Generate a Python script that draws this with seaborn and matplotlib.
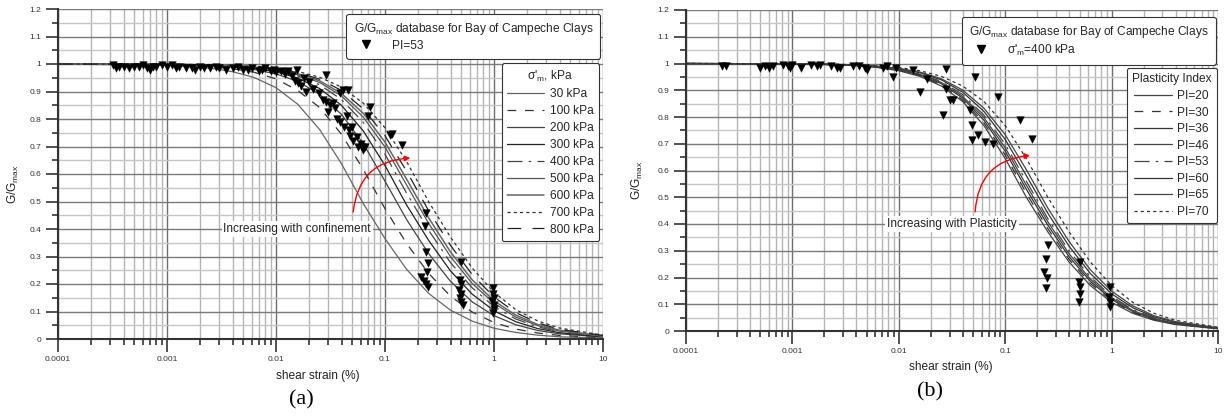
import matplotlib
matplotlib.use("Agg")
import matplotlib.pyplot as plt
import seaborn as sns
from matplotlib.lines import Line2D
from matplotlib.ticker import LogLocator, MultipleLocator, NullFormatter

# shear strain (%) where the curves were read
strain_grid = [0.0001, 0.001, 0.0025, 0.004, 0.0063, 0.01, 0.0158, 0.0251, 0.0398, 0.0631,
               0.1, 0.158, 0.251, 0.398, 0.631, 1.0, 1.58, 2.51, 3.98, 10.0]

# (a) G/Gmax curves for each confinement
conf_labels = ["30 kPa", "100 kPa", "200 kPa", "300 kPa", "400 kPa",
               "500 kPa", "600 kPa", "700 kPa", "800 kPa"]
g_30 = [1.0, 0.995, 0.985, 0.972, 0.951, 0.914, 0.854, 0.762, 0.638, 0.493,
        0.365, 0.253, 0.166, 0.105, 0.065, 0.039, 0.024, 0.014, 0.008, 0.003]
g_100 = [1.0, 0.997, 0.990, 0.983, 0.970, 0.946, 0.904, 0.842, 0.745, 0.617,
         0.474, 0.347, 0.239, 0.156, 0.098, 0.060, 0.036, 0.022, 0.013, 0.005]
g_200 = [1.0, 0.998, 0.994, 0.989, 0.980, 0.964, 0.937, 0.890, 0.817, 0.711,
         0.574, 0.434, 0.311, 0.210, 0.135, 0.085, 0.052, 0.031, 0.019, 0.007]
g_300 = [1.0, 0.998, 0.995, 0.991, 0.984, 0.972, 0.949, 0.911, 0.850, 0.757,
         0.631, 0.487, 0.359, 0.248, 0.163, 0.103, 0.063, 0.038, 0.023, 0.008]
g_400 = [1.0, 0.999, 0.996, 0.993, 0.987, 0.976, 0.957, 0.925, 0.871, 0.788,
         0.672, 0.530, 0.396, 0.278, 0.186, 0.118, 0.073, 0.044, 0.027, 0.009]
g_500 = [1.0, 0.999, 0.996, 0.993, 0.988, 0.979, 0.961, 0.933, 0.884, 0.807,
         0.698, 0.560, 0.421, 0.300, 0.202, 0.130, 0.080, 0.049, 0.029, 0.010]
g_600 = [1.0, 0.999, 0.997, 0.994, 0.989, 0.981, 0.965, 0.939, 0.893, 0.821,
         0.716, 0.581, 0.441, 0.317, 0.215, 0.139, 0.087, 0.053, 0.032, 0.011]
g_700 = [1.0, 0.999, 0.998, 0.995, 0.992, 0.985, 0.973, 0.952, 0.916, 0.858,
         0.768, 0.645, 0.500, 0.371, 0.258, 0.170, 0.107, 0.066, 0.040, 0.014]
g_800 = [1.0, 0.999, 0.997, 0.994, 0.990, 0.983, 0.969, 0.945, 0.904, 0.837,
         0.739, 0.610, 0.467, 0.341, 0.234, 0.153, 0.096, 0.059, 0.035, 0.013]
conf_curves = [g_30, g_100, g_200, g_300, g_400, g_500, g_600, g_700, g_800]

# (b) G/Gmax curves for each plasticity index
pi_labels = ["PI=20", "PI=30", "PI=36", "PI=46", "PI=53", "PI=60", "PI=65", "PI=70"]
g_pi20 = [1.0, 0.998, 0.995, 0.992, 0.985, 0.973, 0.952, 0.916, 0.858, 0.768,
          0.645, 0.500, 0.371, 0.258, 0.170, 0.107, 0.066, 0.040, 0.024, 0.008]
g_pi30 = [1.0, 0.998, 0.995, 0.992, 0.986, 0.975, 0.955, 0.920, 0.864, 0.778,
          0.658, 0.515, 0.383, 0.268, 0.178, 0.113, 0.070, 0.042, 0.026, 0.009]
g_pi36 = [1.0, 0.999, 0.996, 0.993, 0.987, 0.976, 0.957, 0.925, 0.871, 0.788,
          0.672, 0.530, 0.396, 0.278, 0.186, 0.118, 0.073, 0.044, 0.027, 0.009]
g_pi46 = [1.0, 0.999, 0.996, 0.993, 0.987, 0.977, 0.959, 0.929, 0.877, 0.798,
          0.685, 0.545, 0.409, 0.289, 0.194, 0.124, 0.077, 0.047, 0.028, 0.010]
g_pi53 = [1.0, 0.999, 0.996, 0.993, 0.988, 0.979, 0.961, 0.933, 0.884, 0.807,
          0.698, 0.560, 0.421, 0.300, 0.202, 0.130, 0.080, 0.049, 0.029, 0.010]
g_pi60 = [1.0, 0.999, 0.997, 0.994, 0.989, 0.981, 0.965, 0.939, 0.893, 0.821,
          0.716, 0.581, 0.441, 0.317, 0.215, 0.139, 0.087, 0.053, 0.032, 0.011]
g_pi65 = [1.0, 0.999, 0.997, 0.994, 0.990, 0.982, 0.968, 0.943, 0.901, 0.833,
          0.734, 0.603, 0.460, 0.335, 0.229, 0.149, 0.094, 0.057, 0.035, 0.012]
g_pi70 = [1.0, 0.999, 0.998, 0.995, 0.992, 0.985, 0.973, 0.952, 0.916, 0.858,
          0.768, 0.645, 0.500, 0.371, 0.258, 0.170, 0.107, 0.066, 0.040, 0.014]
pi_curves = [g_pi20, g_pi30, g_pi36, g_pi46, g_pi53, g_pi60, g_pi65, g_pi70]

# database points, PI=53
pts_a_strain = [0.00032, 0.00034, 0.00036, 0.0004, 0.00045, 0.0005, 0.00055, 0.0006, 0.00065, 0.0007,
                0.00075, 0.0008, 0.0009, 0.001, 0.0011, 0.0012, 0.0013, 0.0015, 0.0017, 0.0018,
                0.002, 0.0022, 0.0025, 0.0028, 0.003, 0.0035, 0.004, 0.0045, 0.005, 0.0055,
                0.006, 0.007, 0.0075, 0.008, 0.009, 0.0095, 0.01, 0.011, 0.012,
                0.013, 0.014, 0.015, 0.0155, 0.016, 0.017, 0.018, 0.019, 0.02, 0.022,
                0.025, 0.027, 0.029, 0.029, 0.03, 0.031, 0.033, 0.035, 0.036, 0.039,
                0.039, 0.041, 0.042, 0.045, 0.046, 0.047, 0.048, 0.05, 0.051, 0.055,
                0.057, 0.06, 0.061, 0.063, 0.065, 0.07, 0.073, 0.11, 0.115, 0.143,
                0.24, 0.235, 0.24, 0.25, 0.245, 0.215, 0.23, 0.24, 0.25,
                0.5, 0.49, 0.5, 0.48, 0.5, 0.49, 0.5, 0.52,
                0.98, 0.97, 1.0, 0.96, 0.99, 1.0, 0.98]
pts_a_g = [0.995, 0.985, 0.99, 0.99, 0.985, 0.99, 0.99, 0.995, 0.985, 0.98,
           0.99, 0.99, 0.995, 0.99, 0.995, 0.985, 0.99, 0.985, 0.985, 0.98,
           0.99, 0.985, 0.985, 0.99, 0.985, 0.98, 0.985, 0.99, 0.98, 0.98,
           0.985, 0.975, 0.98, 0.985, 0.975, 0.98, 0.97, 0.975, 0.965,
           0.975, 0.955, 0.94, 0.978, 0.93, 0.92, 0.95, 0.90, 0.935, 0.91,
           0.895, 0.87, 0.96, 0.863, 0.827, 0.85, 0.86, 0.84, 0.80, 0.894,
           0.79, 0.905, 0.77, 0.81, 0.905, 0.76, 0.74, 0.77, 0.72, 0.735,
           0.70, 0.71, 0.70, 0.687, 0.70, 0.81, 0.845, 0.742, 0.745, 0.705,
           0.458, 0.41, 0.318, 0.275, 0.245, 0.227, 0.21, 0.2, 0.19,
           0.281, 0.215, 0.2, 0.18, 0.165, 0.15, 0.135, 0.124,
           0.184, 0.165, 0.15, 0.14, 0.125, 0.11, 0.095]

# database points, sigma'm = 400 kPa
pts_b_strain = [0.00022, 0.00024, 0.0005, 0.00055, 0.0006, 0.00066, 0.00082, 0.0009, 0.00095, 0.001,
                0.0012, 0.0015, 0.0017, 0.0018, 0.0023, 0.0026, 0.0028, 0.0037, 0.0042, 0.0048,
                0.005, 0.0071, 0.0078, 0.0089, 0.0095,
                0.0136, 0.0158, 0.0183, 0.028, 0.028, 0.026, 0.03, 0.032, 0.052, 0.047,
                0.0485, 0.055, 0.0485, 0.065, 0.077, 0.085, 0.137, 0.178,
                0.25, 0.24, 0.23, 0.245, 0.24,
                0.505, 0.49, 0.5, 0.5, 0.49,
                0.966, 0.95, 0.97, 0.96]
pts_b_g = [0.99, 0.99, 0.985, 0.99, 0.985, 0.99, 0.995, 0.99, 0.985, 0.995,
           0.985, 0.995, 0.99, 0.995, 0.99, 0.985, 0.985, 0.99, 0.99, 0.985,
           0.975, 0.985, 0.99, 0.95, 0.985,
           0.974, 0.893, 0.943, 0.98, 0.905, 0.806, 0.862, 0.862, 0.949, 0.825,
           0.769, 0.731, 0.713, 0.706, 0.70, 0.874, 0.787, 0.719,
           0.321, 0.271, 0.221, 0.197, 0.159,
           0.259, 0.184, 0.165, 0.14, 0.109,
           0.165, 0.128, 0.091, 0.11]

x_ticks = [0.0001, 0.001, 0.01, 0.1, 1, 10]
x_ticklabels = ["0.0001", "0.001", "0.01", "0.1", "1", "10"]
y_ticks = [0, 0.1, 0.2, 0.3, 0.4, 0.5, 0.6, 0.7, 0.8, 0.9, 1.0, 1.1, 1.2]
y_ticklabels = ["0", "0.1", "0.2", "0.3", "0.4", "0.5", "0.6", "0.7", "0.8", "0.9", "1", "1.1", "1.2"]

sns.set_theme(style="white")
plt.rcParams["font.family"] = ["Liberation Sans", "DejaVu Sans"]
plt.rcParams["mathtext.fontset"] = "custom"
plt.rcParams["mathtext.rm"] = "Liberation Sans"
plt.rcParams["mathtext.it"] = "Liberation Sans:italic"

LEG_FS = 8.6
TXT_FS = 8.6

conf_styles = [
  ("-", "#666666", 0.9),
  ((0, (7, 7)), "#333333", 0.9),
  ("-", "#444444", 0.9),
  ("-", "#222222", 0.9),
  ((0, (12, 5, 2, 5)), "#444444", 0.9),
  ("-", "#555555", 0.9),
  ("-", "#666666", 1.1),
  ((0, (2.5, 2.5)), "#333333", 0.9),
  ((0, (11, 9)), "#222222", 0.9),
]
pi_styles = [
  ("-", "#444444", 0.9),
  ((0, (7, 7)), "#333333", 0.9),
  ("-", "#333333", 0.9),
  ("-", "#444444", 0.9),
  ((0, (12, 5, 2, 5)), "#444444", 0.9),
  ("-", "#333333", 0.9),
  ("-", "#444444", 0.9),
  ((0, (2.5, 2.5)), "#333333", 0.9),
]

fig = plt.figure(figsize=(12.24, 4.18), dpi=100)
ax_a = fig.add_axes([58 / 1224, 1 - 339 / 418, 545 / 1224, 330 / 418])
ax_b = fig.add_axes([686 / 1224, 1 - 331 / 418, 532 / 1224, 321 / 418])


def style_axes(ax):
  ax.set_xscale("log")
  ax.set_xlim(1e-4, 10)
  ax.set_ylim(0, 1.2)
  ax.set_xticks(x_ticks, labels=x_ticklabels)
  ax.xaxis.set_minor_locator(LogLocator(base=10, subs=range(2, 10), numticks=20))
  ax.xaxis.set_minor_formatter(NullFormatter())
  ax.set_yticks(y_ticks, labels=y_ticklabels)
  ax.yaxis.set_minor_locator(MultipleLocator(0.05))
  ax.set_axisbelow(True)
  ax.grid(which="major", axis="x", color="#6e6e6e", linewidth=1.0)
  ax.grid(which="minor", axis="x", color="#b4b4b4", linewidth=1.0)
  ax.grid(which="major", axis="y", color="#7a7a7a", linewidth=1.0)
  ax.grid(which="minor", axis="y", color="#c6c6c6", linewidth=1.0)
  ax.tick_params(which="major", direction="out", length=9, width=1.2, color="#333333",
                 labelsize=6, labelcolor="#333333", pad=3, bottom=True, left=True)
  ax.tick_params(which="minor", direction="out", length=4.5, width=1.2, color="#333333",
                 bottom=True, left=True)
  for side in ["top", "right"]:
    ax.spines[side].set_visible(False)
  for side in ["left", "bottom"]:
    ax.spines[side].set_color("#333333")
    ax.spines[side].set_linewidth(1.5)


def legend_handles(styles):
  return [Line2D([], [], linestyle=ls, color=c, linewidth=lw) for ls, c, lw in styles]


def frame_legends(ax, marker_label, anchor1, lines, labels, title, anchor2, spacing):
  leg1 = ax.legend(
    handles=[Line2D([], [], marker="v", color="black", linestyle="", markersize=6)],
    labels=[marker_label],
    title="G/G$_{\\mathrm{max}}$ database for Bay of Campeche Clays",
    loc="upper right", bbox_to_anchor=anchor1, borderaxespad=0,
    fontsize=LEG_FS, title_fontsize=LEG_FS, alignment="left",
    frameon=True, fancybox=True, framealpha=1, edgecolor="#333333",
    handlelength=2.0, handletextpad=1.2, borderpad=0.6, labelspacing=0.2,
  )
  leg1.get_frame().set_linewidth(0.8)
  ax.add_artist(leg1)
  leg2 = ax.legend(
    handles=lines, labels=labels, title=title,
    loc="upper right", bbox_to_anchor=anchor2, borderaxespad=0,
    fontsize=LEG_FS, title_fontsize=LEG_FS,
    frameon=True, fancybox=True, framealpha=1, edgecolor="#333333",
    handlelength=3.1, handletextpad=0.5, labelspacing=spacing, borderpad=0.45,
  )
  leg2.get_frame().set_linewidth(0.8)


# ---- panel (a)
style_axes(ax_a)
for vals, (ls, c, lw) in zip(conf_curves, conf_styles):
  sns.lineplot(x=strain_grid, y=vals, ax=ax_a, color=c, linestyle=ls, linewidth=lw,
               sort=False, estimator=None, legend=False)
sns.scatterplot(x=pts_a_strain, y=pts_a_g, ax=ax_a, marker="v", color="black",
                edgecolor="black", linewidth=0.3, s=30, zorder=4, legend=False)
frame_legends(ax_a, "PI=53", (0.995, 0.985), legend_handles(conf_styles), conf_labels,
              "σ'$_{\\mathrm{m}}$, kPa", (0.993, 0.836), 0.41)

ax_a.text(0.0156, 0.4, "Increasing with confinement", ha="center", va="center",
          fontsize=TXT_FS, color="#222222", zorder=5,
          bbox=dict(facecolor="white", edgecolor="none", pad=1.2))
ax_a.annotate("", xy=(0.181, 0.658), xytext=(0.0508, 0.452),
              arrowprops=dict(arrowstyle="-|>", color="red", lw=1.0, mutation_scale=8,
                              connectionstyle="arc3,rad=-0.45"), zorder=6)
ax_a.set_xlabel("shear strain (%)", fontsize=TXT_FS, color="#222222")
ax_a.xaxis.set_label_coords(0.477, -0.094)
ax_a.set_ylabel("G/G$_{\\mathrm{max}}$", fontsize=TXT_FS, color="#222222")
ax_a.yaxis.set_label_coords(-0.068, 0.47)

# ---- panel (b)
style_axes(ax_b)
for vals, (ls, c, lw) in zip(pi_curves, pi_styles):
  sns.lineplot(x=strain_grid, y=vals, ax=ax_b, color=c, linestyle=ls, linewidth=lw,
               sort=False, estimator=None, legend=False)
sns.scatterplot(x=pts_b_strain, y=pts_b_g, ax=ax_b, marker="v", color="black",
                edgecolor="black", linewidth=0.3, s=30, zorder=4, legend=False)
frame_legends(ax_b, "σ'$_{\\mathrm{m}}$=400 kPa", (0.996, 0.978), legend_handles(pi_styles),
              pi_labels, "Plasticity Index", (0.998, 0.819), 0.38)

ax_b.text(0.0316, 0.4, "Increasing with Plasticity", ha="center", va="center",
          fontsize=TXT_FS, color="#222222", zorder=5,
          bbox=dict(facecolor="white", edgecolor="none", pad=1.2))
ax_b.annotate("", xy=(0.182, 0.657), xytext=(0.052, 0.435),
              arrowprops=dict(arrowstyle="-|>", color="red", lw=1.0, mutation_scale=8,
                              connectionstyle="arc3,rad=-0.45"), zorder=6)
ax_b.set_xlabel("shear strain (%)", fontsize=TXT_FS, color="#222222")
ax_b.xaxis.set_label_coords(0.498, -0.093)
ax_b.set_ylabel("G/G$_{\\mathrm{max}}$", fontsize=TXT_FS, color="#222222")
ax_b.yaxis.set_label_coords(-0.077, 0.47)

fig.text(301 / 1224, 1 - 400 / 418, "(a)", fontsize=16, family="Liberation Serif",
         ha="center", va="center", color="black")
fig.text(930 / 1224, 1 - 392 / 418, "(b)", fontsize=16, family="Liberation Serif",
         ha="center", va="center", color="black")

fig.savefig("out.png", dpi=100)
plt.close(fig)
